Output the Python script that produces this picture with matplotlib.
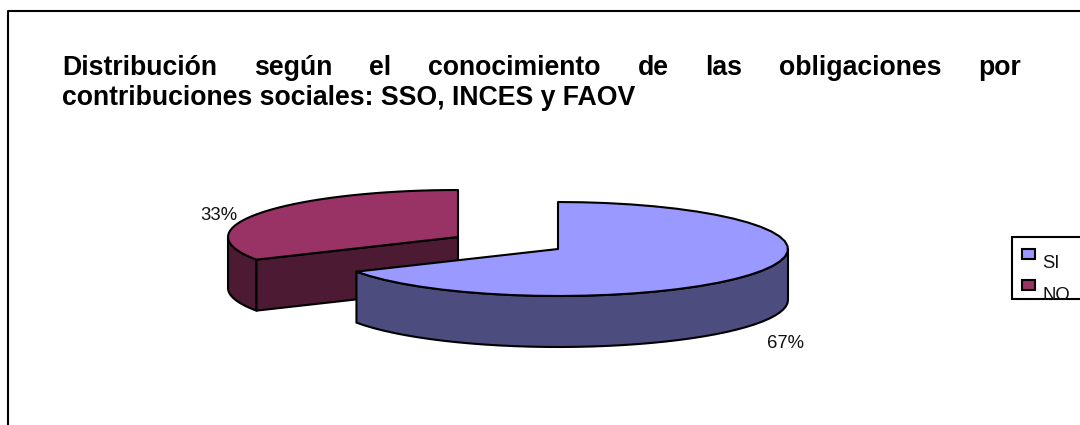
import numpy as np
import matplotlib
matplotlib.use("Agg")
import matplotlib.pyplot as plt
from matplotlib.patches import Polygon, Rectangle

categories = ["SI", "NO"]
shares = [67, 33]
value_labels = ["67%", "33%"]
title_lines = ["Distribución según el conocimiento de las obligaciones por",
               "contribuciones sociales: SSO, INCES y FAOV"]

plt.rcParams['font.family'] = ['Liberation Sans', 'DejaVu Sans']
TOP = "#9999ff"; TOP2 = "#993366"; SIDE = "#4c4c7f"; SIDE2 = "#4c1a33"
INK = "#000000"; LBL = "#111111"

fig = plt.figure(figsize=(10.8, 4.25), dpi=100)
ax = fig.add_axes([0, 0, 1, 1])
ax.set_xlim(0, 1080); ax.set_ylim(425, 0); ax.axis("off")

# frame (right and bottom edges fall outside the picture)
ax.plot([7.5, 7.5, 1080], [425, 10.5, 10.5], color=INK, lw=1.5, solid_capstyle="butt")

RX, RY, DEPTH = 230, 47, 51
frac = np.array(shares) / sum(shares)
split = 90 - 360 * frac[0]   # angle where first slice ends, clockwise from 12 o'clock


def arc(cx, cy, a0, a1, dy=0):
    t = np.radians(np.linspace(a0, a1, 40))
    return np.column_stack([cx + RX * np.cos(t), cy - RY * np.sin(t) + dy])


def poly(pts, fc):
    ax.add_patch(Polygon(pts, closed=True, fc=fc, ec=INK, lw=1.5, joinstyle="round"))


# NO slice, exploded to the upper left
cx, cy = 458, 237
end = split + 360
poly(np.vstack([arc(cx, cy, 180, end), arc(cx, cy, end, 180, DEPTH)]), SIDE2)
p = arc(cx, cy, end, end + 1)[0]
poly([[cx, cy], p, [p[0], p[1] + DEPTH], [cx, cy + DEPTH]], SIDE2)
poly(np.vstack([[[cx, cy]], arc(cx, cy, 90, end)]), TOP2)

# SI slice
cx, cy = 558, 249
poly(np.vstack([arc(cx, cy, 0, split), arc(cx, cy, split, 0, DEPTH)]), SIDE)
poly(np.vstack([[[cx, cy]], arc(cx, cy, 90, split)]), TOP)

# value labels
ax.text(786, 348, value_labels[0], fontsize=13.3, color=LBL, ha="center", va="baseline")
ax.text(218.5, 219.5, value_labels[1], fontsize=13.3, color=LBL, ha="center", va="baseline")

# legend
ax.add_patch(Rectangle((1012, 237), 80, 61.5, fc="white", ec=INK, lw=1.5))
for y, col, name, ty in [(253.5, TOP, categories[0], 268), (284.5, TOP2, categories[1], 300)]:
    ax.add_patch(Rectangle((1021.5, y - 5), 13, 10, fc=col, ec=INK, lw=1.5))
    t = ax.text(1042, ty, name, fontsize=13.3, color=LBL, ha="left", va="baseline")
    if name == categories[1]:
        t.set_clip_path(Rectangle((1000, 230), 80, 69, transform=ax.transData))

# justified title
fig.canvas.draw()
r = fig.canvas.get_renderer()
TS = 19.15
L, R = 62.5, 1021
words = title_lines[0].split()
items = [ax.text(0, 75, w, fontsize=TS, fontweight="bold", color=INK, va="baseline") for w in words]
widths = [i.get_window_extent(r).width for i in items]
gap = (R - L - sum(widths)) / (len(words) - 1)
x = L
for it, w in zip(items, widths):
    it.set_x(x)
    x += w + gap
ax.text(L, 105, title_lines[1], fontsize=TS, fontweight="bold", color=INK, va="baseline")

fig.savefig("out.png", dpi=100)
